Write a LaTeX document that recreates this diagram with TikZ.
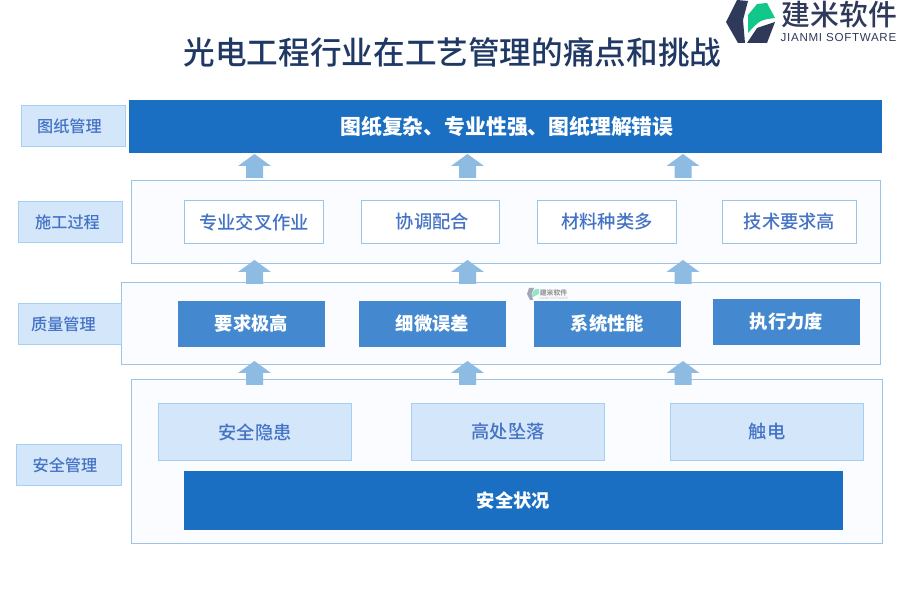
\documentclass[tikz,border=0pt]{standalone}
\usepackage{fontspec}
\usepackage{xcolor}
\setmainfont{Noto Sans CJK SC}
\newfontfamily\cjkmid{Noto Sans CJK SC Medium}
\setsansfont{Liberation Sans}
\definecolor{jmdeep}{HTML}{1B6FC2}
\definecolor{jmmid}{HTML}{4489D0}
\definecolor{jmpale}{HTML}{D4E7FA}
\definecolor{jmedge}{HTML}{A5CFF3}
\definecolor{jmline}{HTML}{9CC3E8}
\definecolor{jmpanel}{HTML}{FBFCFF}
\definecolor{jmarrow}{HTML}{8DBBE2}
\definecolor{jmtext}{HTML}{4472C4}
\definecolor{jmnavy}{HTML}{2F3A5A}
\definecolor{jmtitle}{HTML}{1F3864}
\definecolor{jmgreen}{HTML}{12C78A}

\begin{document}
\begin{tikzpicture}[x=1cm, y=1cm, line width=0.4pt,
    base/.style={rectangle, inner sep=0pt, outer sep=0pt},
    sidebox/.style={base, draw=jmedge, fill=jmpale, minimum height=8.2mm,
                    text=jmtext, font=\fontsize{9.2}{11}\selectfont\cjkmid},
    panel/.style={base, draw=jmline, fill=jmpanel},
    bar/.style={base, fill=jmdeep, text=white, font=\fontsize{10.4}{12}\selectfont\bfseries},
    whitebox/.style={base, draw=jmline, fill=white, minimum height=8.6mm,
                     text=jmtext, font=\fontsize{10.4}{12}\selectfont\cjkmid},
    midbox/.style={base, fill=jmmid, minimum width=29.4mm, minimum height=9.2mm,
                   text=white, font=\fontsize{10.4}{12}\selectfont\bfseries},
    palebox/.style={base, draw=jmedge, fill=jmpale, minimum width=38.6mm, minimum height=11.4mm,
                    text=jmtext, font=\fontsize{10.4}{12}\selectfont\cjkmid}]
  \useasboundingbox (0,0) rectangle (18,12);
  % the title
  \node[base, text=jmtitle, font=\fontsize{18}{20}\selectfont\cjkmid] (title) at (9.05,10.96)
    {光电工程行业在工艺管理的痛点和挑战};
  % the logo, top right
  \fill[jmnavy] (14.74,12) -- (14.52,11.56) -- (14.76,11.14) -- (14.90,11.14)
    -- (14.86,11.6) -- (14.96,11.98) -- cycle;
  \fill[jmnavy] (14.94,11.14) -- (15.14,11.44) -- (15.5,11.56) -- (15.34,11.14) -- cycle;
  \fill[jmgreen] (14.96,11.34) -- (14.96,11.7) -- (15.14,11.92) -- (15.34,11.94) -- (15.5,11.64)
    .. controls (15.2,11.6) .. (14.96,11.34) -- cycle;
  \node[base, text=jmnavy, font=\fontsize{16.4}{18}\selectfont\cjkmid] (logocn) at (16.79,11.71) {建米软件};
  \node[base, text=jmnavy, font=\sffamily\fontsize{6.6}{8}\selectfont\addfontfeatures{LetterSpace=6}] (logoen) at (16.77,11.24)
    {JIANMI SOFTWARE};
  % the panels
  \node[panel, minimum width=149.8mm, minimum height=16.6mm] (panelb) at (10.12,7.56) {};
  \node[panel, minimum width=151.8mm, minimum height=16.4mm] (panelc) at (10.02,5.53) {};
  \node[panel, minimum width=150.2mm, minimum height=32.8mm] (paneld) at (10.14,2.77) {};
  % the labels on the left
  \node[sidebox, minimum width=20.8mm] (sidea) at (1.47,9.48) {\hspace*{-0.16cm}图纸管理};
  \node[sidebox, minimum width=20.8mm] (sideb) at (1.41,7.56) {\hspace*{-0.12cm}施工过程};
  \node[sidebox, minimum width=20.6mm] (sidec) at (1.40,5.52) {\hspace*{-0.26cm}质量管理};
  \node[sidebox, minimum width=21mm] (sided) at (1.38,2.70) {\hspace*{-0.16cm}安全管理};
  % top bar
  \node[bar, minimum width=150.6mm, minimum height=10.6mm,
        font=\fontsize{11.85}{14}\selectfont\bfseries] (topbar) at (10.11,9.47)
    {\hspace*{0.06cm}图纸复杂、专业性强、图纸理解错误};
  % second row
  \foreach \n/\x/\w/\t in {a/5.08/27.8/专业交叉作业, b/8.61/27.6/\hspace*{0.08cm}协调配合,
                           c/12.14/27.8/材料种类多, d/15.79/26.8/技术要求高}{
    \node[whitebox, minimum width=\w mm] (work\n) at (\x,7.56) {\t};}
  % third row
  \foreach \n/\x/\y/\t in {a/5.03/5.52/要求极高, b/8.65/5.52/细微误差,
                           c/12.15/5.52/系统性能, d/15.73/5.56/执行力度}{
    \node[midbox] (qual\n) at (\x,\y) {\t};}
  % fourth row
  \foreach \n/\x/\t in {a/5.10/安全隐患, b/10.16/高处坠落, c/15.34/触电}{
    \node[palebox] (safe\n) at (\x,3.36) {\t};}
  \node[bar, minimum width=131.8mm, minimum height=11.8mm] (safebar) at (10.27,1.99) {安全状况};
  % the arrows between the rows
  \foreach \x in {5.09,9.35,13.66}{
    \foreach \y in {8.92,6.80,4.78}{
      \fill[jmarrow] (\x,\y) -- (\x+0.33,\y-0.24) -- (\x+0.17,\y-0.24) -- (\x+0.17,\y-0.48)
        -- (\x-0.17,\y-0.48) -- (\x-0.17,\y-0.24) -- (\x-0.33,\y-0.24) -- cycle;}}
  % the small watermark
  \fill[jmnavy!45] (10.58,6.24) -- (10.54,6.12) -- (10.6,6.0) -- (10.66,6.0) -- (10.63,6.12) -- (10.68,6.24) -- cycle;
  \fill[jmgreen!45] (10.64,6.05) .. controls (10.64,6.2) and (10.7,6.24) .. (10.78,6.22)
    -- (10.78,6.12) -- cycle;
  \node[base, text=black!40, font=\fontsize{3.9}{5}\selectfont\bfseries] (markcn) at (11.07,6.14) {建米软件};
  \node[base, text=black!25, font=\sffamily\fontsize{1.8}{2}\selectfont] (marken) at (11.07,6.03) {JIANMI SOFTWARE};
\end{tikzpicture}
\end{document}
